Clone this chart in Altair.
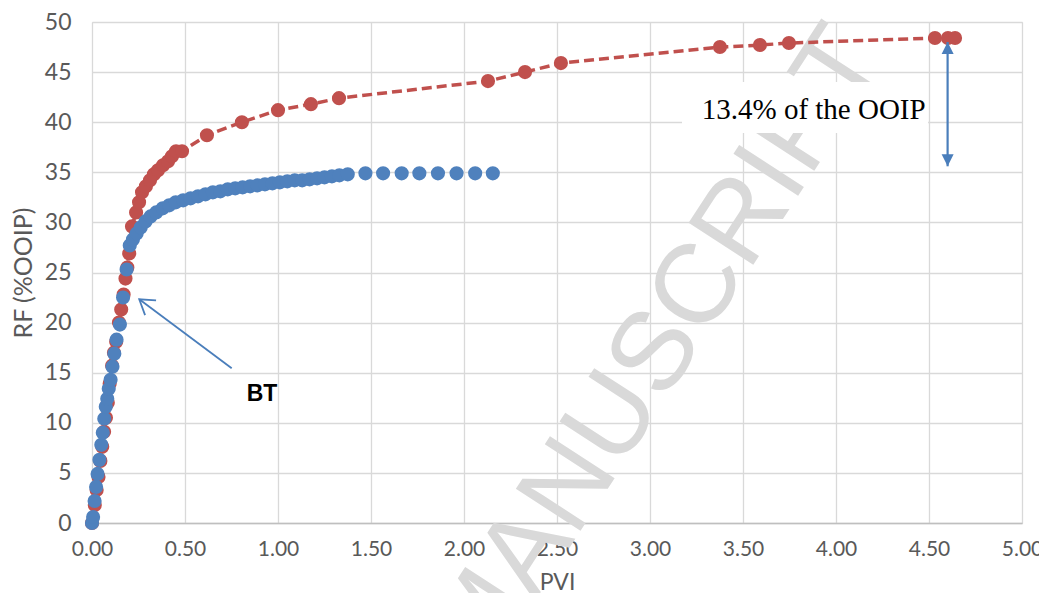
import altair as alt
import pandas as pd
import numpy as np

# ---------------- data ----------------
blue_pvi = [0.000, 0.006, 0.014, 0.022, 0.030, 0.040, 0.050, 0.058, 0.066, 0.074, 0.082, 0.090,
            0.100, 0.110, 0.120, 0.132, 0.150, 0.167, 0.186, 0.203, 0.220, 0.240, 0.262, 0.288,
            0.315, 0.345, 0.380, 0.415, 0.450, 0.490, 0.530, 0.570, 0.610, 0.650, 0.690, 0.730,
            0.770, 0.810, 0.850, 0.890, 0.930, 0.970, 1.010, 1.050, 1.090, 1.130, 1.170, 1.210,
            1.250, 1.290, 1.330, 1.375, 1.470, 1.565, 1.665, 1.760, 1.860, 1.960, 2.060, 2.155]
blue_rf = [0.0, 0.6, 2.2, 3.6, 4.9, 6.3, 7.8, 9.0, 10.4, 11.6, 12.4, 13.4,
           14.3, 15.6, 16.9, 18.3, 19.8, 22.5, 25.3, 27.7, 28.3, 28.9, 29.5, 30.1,
           30.6, 31.0, 31.4, 31.7, 32.0, 32.2, 32.4, 32.6, 32.8, 33.0, 33.1, 33.3,
           33.4, 33.5, 33.6, 33.7, 33.8, 33.9, 34.0, 34.1, 34.2, 34.2, 34.3, 34.4,
           34.5, 34.6, 34.7, 34.8, 34.9, 34.9, 34.9, 34.9, 34.9, 34.9, 34.9, 34.9]

red_pvi = [0.000, 0.015, 0.025, 0.035, 0.045, 0.055, 0.065, 0.075, 0.085, 0.095, 0.108, 0.118,
           0.130, 0.145, 0.157, 0.170, 0.180, 0.190, 0.200, 0.215, 0.237, 0.253, 0.269, 0.290,
           0.312, 0.333, 0.355, 0.382, 0.409, 0.430, 0.452, 0.484, 0.618, 0.806, 1.000, 1.177,
           1.328, 2.129, 2.328, 2.521, 3.376, 3.591, 3.747, 4.532, 4.602, 4.640]
red_rf = [0.0, 1.8, 3.3, 4.6, 6.2, 7.6, 9.1, 10.5, 12.0, 13.9, 15.7, 17.0,
          18.1, 20.0, 21.3, 22.8, 24.4, 25.5, 26.9, 29.6, 31.0, 32.0, 33.0, 33.6,
          34.2, 34.8, 35.2, 35.7, 36.1, 36.6, 37.1, 37.1, 38.7, 40.0, 41.2, 41.8,
          42.4, 44.1, 45.0, 45.9, 47.5, 47.7, 47.9, 48.4, 48.4, 48.4]

x_ticks = [0.0, 0.5, 1.0, 1.5, 2.0, 2.5, 3.0, 3.5, 4.0, 4.5, 5.0]
y_ticks = [0, 5, 10, 15, 20, 25, 30, 35, 40, 45, 50]

# annotations (data coordinates)
bt_label = ["BT"]
bt_label_pos = [0.914, 12.9]
bt_arrow_tail = [0.751, 15.44]
bt_arrow_head = [0.254, 22.33]
gain_label = ["13.4% of the OOIP"]
gain_label_pos = [3.88, 41.2]
gain_box = [3.172, 4.495, 38.92, 44.01]
gain_arrow_x = [4.60]
gain_arrow_top = [48.0]
gain_arrow_bottom = [35.6]
watermark = ["ACCEPTED MANUSCRIPT"]
watermark_pos = [2.10, -9.6]

# ---------------- style ----------------
W, H = 930, 501
RED = "#C0504D"
BLUE = "#4F81BD"
ARROW = "#4A7EBB"
LABEL_FONT = "Lato"
GRAY = "#595959"

xscale = alt.Scale(domain=[0, 5], nice=False, zero=False)
yscale = alt.Scale(domain=[0, 50], nice=False, zero=False)

xaxis = alt.Axis(values=x_ticks, format=".2f", title="PVI", grid=True, gridColor="#D9D9D9",
                 gridWidth=1.3, domain=True, domainColor="#BFBFBF", domainWidth=1.5, ticks=False,
                 labelPadding=15, labelFont=LABEL_FONT, labelFontSize=21, labelColor=GRAY,
                 labelFlush=False, titleFont=LABEL_FONT, titleFontSize=23, titleColor=GRAY,
                 titleFontWeight="normal", titleY=59, titleBaseline="middle")
yaxis = alt.Axis(values=y_ticks, title="RF (%OOIP)", grid=True, gridColor="#D9D9D9",
                 gridWidth=1.3, domain=False, ticks=False, labelPadding=21,
                 labelFont=LABEL_FONT, labelFontSize=23, labelColor=GRAY, labelFlush=False,
                 titleFont=LABEL_FONT, titleFontSize=25, titleColor=GRAY,
                 titleFontWeight="normal", titleAngle=270, titleX=-69, titleY=250.5,
                 titleAlign="center", titleBaseline="middle")


def X(f):
    return alt.X(f, type="quantitative", scale=xscale, axis=xaxis)


def Y(f):
    return alt.Y(f, type="quantitative", scale=yscale, axis=yaxis)


blue_df = pd.DataFrame({"pvi": blue_pvi, "rf": blue_rf})
red_df = pd.DataFrame({"pvi": red_pvi, "rf": red_rf})

wm_df = pd.DataFrame({"pvi": [watermark_pos[0]], "rf": [watermark_pos[1]], "t": watermark})
wm = alt.Chart(wm_df).mark_text(font="Liberation Sans", fontSize=112, color="#D9D9D9",
                                angle=303, align="center", baseline="middle").encode(
    x=X("pvi"), y=Y("rf"), text="t:N")

red_line = alt.Chart(red_df).mark_line(color=RED, strokeWidth=3.5, strokeDash=[10, 5]).encode(
    x=X("pvi"), y=Y("rf"))
red_pts = alt.Chart(red_df).mark_circle(color=RED, size=200, opacity=1).encode(
    x=X("pvi"), y=Y("rf"))
blue_pts = alt.Chart(blue_df).mark_circle(color=BLUE, size=200, opacity=1).encode(
    x=X("pvi"), y=Y("rf"))

# BT arrow
bt_df = pd.DataFrame({"x1": [bt_arrow_tail[0]], "y1": [bt_arrow_tail[1]],
                      "x2": [bt_arrow_head[0]], "y2": [bt_arrow_head[1]]})
bt_line = alt.Chart(bt_df).mark_rule(color=ARROW, strokeWidth=1.8).encode(
    x=X("x1"), y=Y("y1"), x2="x2", y2="y2")
dx = (bt_arrow_head[0] - bt_arrow_tail[0]) * W / 5
dy = -(bt_arrow_head[1] - bt_arrow_tail[1]) * H / 50
ang = float(np.degrees(np.arctan2(dy, dx)) % 360)
bt_head = alt.Chart(bt_df).mark_point(shape="M-2,-1.3L0,0L-2,1.3", filled=False, color=ARROW,
                                      strokeWidth=1.8, size=200, angle=ang, opacity=1).encode(
    x=X("x2"), y=Y("y2"))
bt_text_df = pd.DataFrame({"pvi": [bt_label_pos[0]], "rf": [bt_label_pos[1]], "t": bt_label})
bt_text = alt.Chart(bt_text_df).mark_text(font="Liberation Sans", fontWeight="bold", fontSize=23,
                                          color="black").encode(x=X("pvi"), y=Y("rf"), text="t:N")

# 13.4% annotation
box_df = pd.DataFrame({"x1": [gain_box[0]], "x2": [gain_box[1]], "y1": [gain_box[2]],
                       "y2": [gain_box[3]]})
box = alt.Chart(box_df).mark_rect(color="white").encode(
    x=X("x1"), x2="x2", y=Y("y1"), y2="y2")
gain_df = pd.DataFrame({"pvi": [gain_label_pos[0]], "rf": [gain_label_pos[1]], "t": gain_label})
gain_text = alt.Chart(gain_df).mark_text(font="Liberation Serif", fontSize=29, color="black").encode(
    x=X("pvi"), y=Y("rf"), text="t:N")
arr_df = pd.DataFrame({"pvi": gain_arrow_x, "top": gain_arrow_top, "bot": gain_arrow_bottom})
arr_rule = alt.Chart(arr_df).mark_rule(color=ARROW, strokeWidth=2.2).encode(
    x=X("pvi"), y=Y("top"), y2="bot")
arr_up = alt.Chart(arr_df).mark_point(shape="M0,0L-1,2L1,2Z", filled=True, color=ARROW, size=144,
                                      opacity=1).encode(x=X("pvi"), y=Y("top"))
arr_down = alt.Chart(arr_df).mark_point(shape="M0,0L-1,-2L1,-2Z", filled=True, color=ARROW, size=144,
                                        opacity=1).encode(x=X("pvi"), y=Y("bot"))

chart = alt.layer(wm, red_line, red_pts, blue_pts, bt_line, bt_head, bt_text,
                  box, gain_text, arr_rule, arr_up, arr_down).properties(
    width=W, height=H,
    padding={"left": 84, "top": 14, "right": 17, "bottom": 70},
    autosize=alt.AutoSizeParams(type="none"),
).configure_view(stroke=None).configure(background="white")

chart.save("out.html", embed_options={"renderer": "svg", "actions": False})
